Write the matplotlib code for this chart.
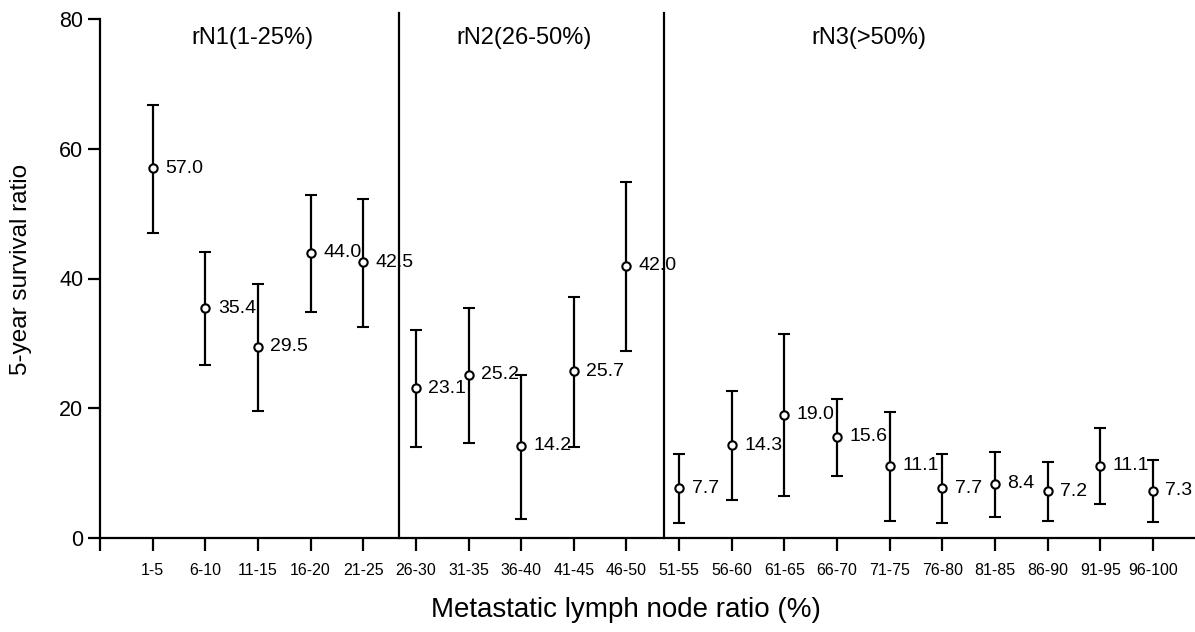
import matplotlib
matplotlib.use("Agg")
import matplotlib.pyplot as plt

categories = ["1-5", "6-10", "11-15", "16-20", "21-25", "26-30", "31-35", "36-40", "41-45", "46-50",
              "51-55", "56-60", "61-65", "66-70", "71-75", "76-80", "81-85", "86-90", "91-95", "96-100"]
survival = [57.0, 35.4, 29.5, 44.0, 42.5, 23.1, 25.2, 14.2, 25.7, 42.0,
            7.7, 14.3, 19.0, 15.6, 11.1, 7.7, 8.4, 7.2, 11.1, 7.3]
ci_upper = [66.7, 44.1, 39.1, 52.9, 52.2, 32.0, 35.4, 25.1, 37.2, 54.9,
            13.0, 22.7, 31.4, 21.4, 19.4, 12.9, 13.3, 11.7, 17.0, 12.0]
ci_lower = [47.0, 26.6, 19.6, 34.8, 32.6, 14.1, 14.7, 3.0, 14.1, 28.8,
            2.3, 5.8, 6.5, 9.5, 2.6, 2.3, 3.2, 2.6, 5.2, 2.5]
group_labels = ["rN1(1-25%)", "rN2(26-50%)", "rN3(>50%)"]
group_label_x = [2.9, 8.05, 14.6]
separators = [5.68, 10.71]

plt.rcParams['font.family'] = ['Liberation Sans', 'DejaVu Sans']

fig = plt.figure(figsize=(11.95, 6.32), dpi=100)
ax = fig.add_axes([100/1195, 1 - 538/632, 1 - 100/1195, (538 - 19)/632])

x = list(range(1, len(categories) + 1))
yerr = [[s - l for s, l in zip(survival, ci_lower)],
        [u - s for s, u in zip(survival, ci_upper)]]
ax.errorbar(x, survival, yerr=yerr, fmt='o', color='black', ecolor='black',
            elinewidth=1.6, capsize=4, capthick=1.6, markersize=6,
            markerfacecolor='white', markeredgecolor='black', markeredgewidth=1.5, zorder=3)

for xi, v in zip(x, survival):
    ax.annotate(f"{v:.1f}", (xi, v), xytext=(9, 0), textcoords='offset points',
                va='center', ha='left', fontsize=14, zorder=4)

for s in separators:
    ax.plot([s, s], [0, 81], color='black', lw=1.6, clip_on=False)

for lab, gx in zip(group_labels, group_label_x):
    ax.text(gx, 77, lab, ha='center', va='center', fontsize=17)

ax.set_xlim(0, 20.8)
ax.set_ylim(0, 80)
ax.set_xticks([0] + x)
ax.set_xticklabels([""] + categories, fontsize=11.5)
ax.set_yticks([0, 20, 40, 60, 80])
ax.set_yticklabels(["0", "20", "40", "60", "80"], fontsize=15.5)
ax.tick_params(axis='both', direction='out', length=9, width=1.6)
ax.tick_params(axis='x', pad=9)
ax.tick_params(axis='y', pad=3)
for side in ['top', 'right']:
    ax.spines[side].set_visible(False)
for side in ['left', 'bottom']:
    ax.spines[side].set_linewidth(1.6)

fig.text(626/1195, 1 - 610/632, "Metastatic lymph node ratio (%)", ha='center', va='center', fontsize=20)
fig.text(21/1195, 1 - 269/632, "5-year survival ratio", ha='center', va='center', rotation=90, fontsize=17.5)

fig.savefig("out.png", dpi=100)
